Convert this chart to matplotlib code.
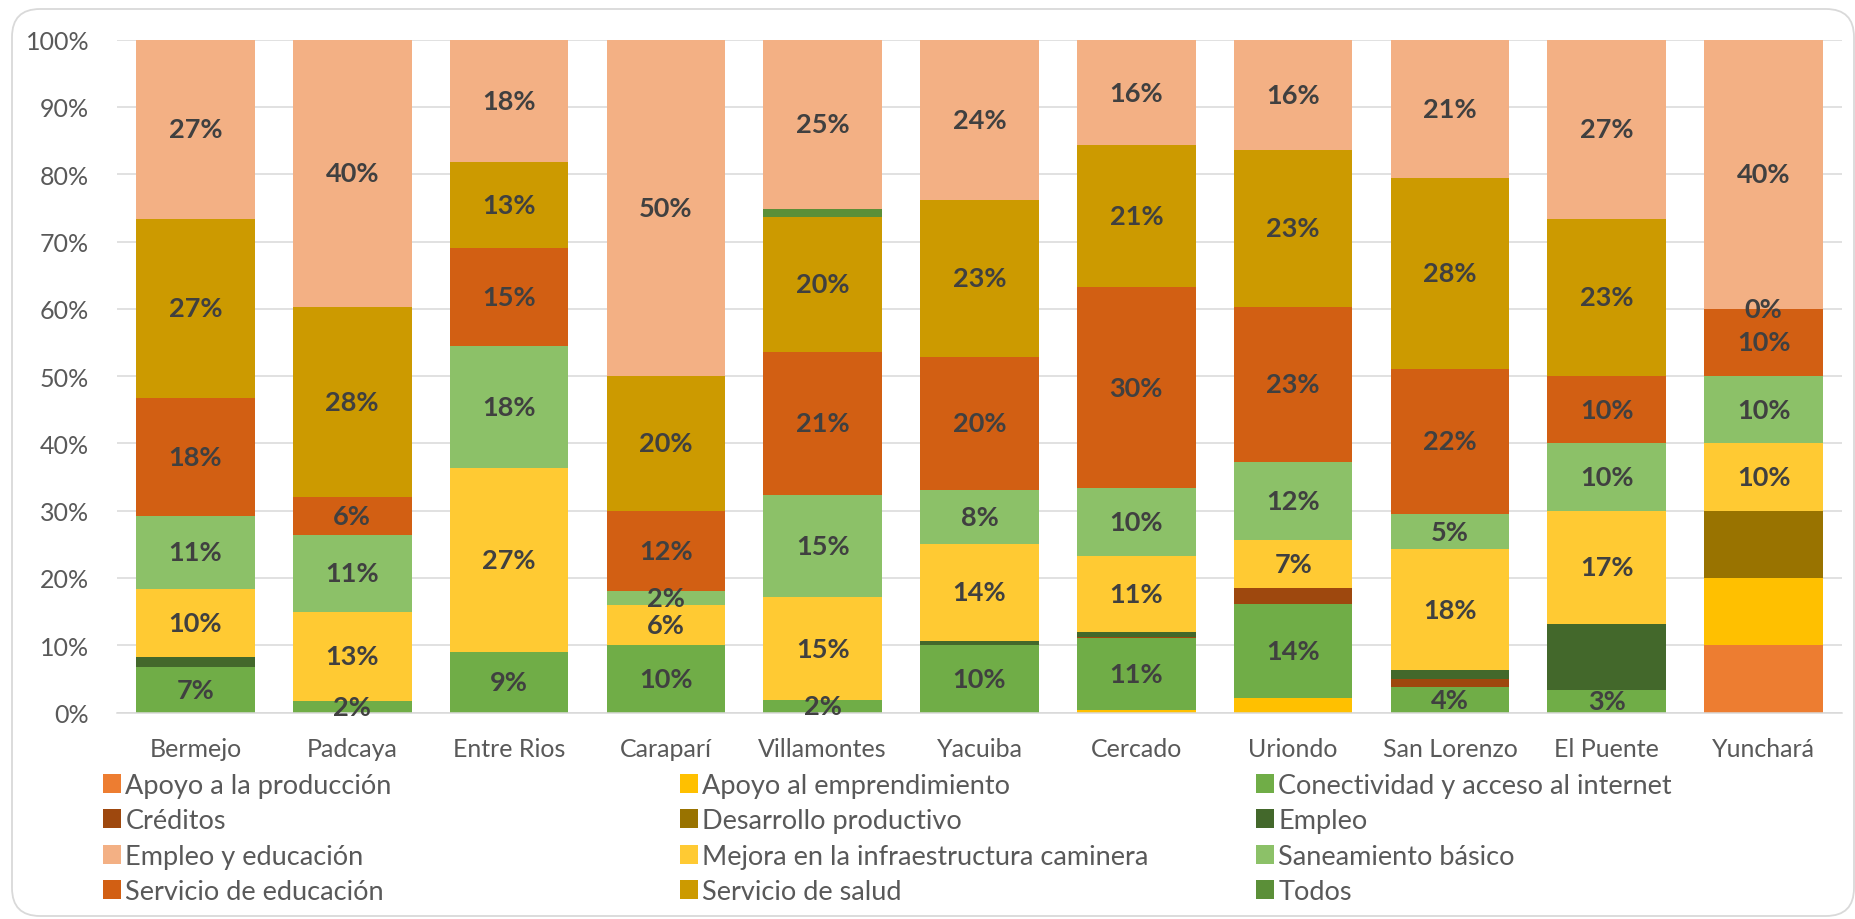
import matplotlib
matplotlib.use("Agg")
import matplotlib.pyplot as plt
import numpy as np
from matplotlib.patches import FancyBboxPatch
from matplotlib.transforms import IdentityTransform

nan = np.nan

# ── data (percent of answers per municipality) ──
municipios = ["Bermejo", "Padcaya", "Entre Rios", "Carapari", "Villamontes",
              "Yacuiba", "Cercado", "Uriondo", "San Lorenzo", "El Puente", "Yunchará"]
municipios[3] = "Caraparí"

apoyo_produccion = [nan, nan, nan, nan, nan, nan, nan, nan, nan, nan, 10.0]
apoyo_emprendimiento = [nan, nan, nan, nan, nan, nan, 0.3, 2.2, nan, nan, 10.0]
conectividad = [6.8, 1.7, 9.0, 10.0, 1.8, 10.0, 10.7, 14.0, 3.8, 3.3, nan]
creditos = [nan, nan, nan, nan, nan, nan, 0.2, 2.3, 1.2, nan, nan]
desarrollo_productivo = [nan, nan, nan, nan, nan, nan, nan, nan, nan, nan, 10.0]
empleo = [1.5, nan, nan, nan, nan, 0.7, 0.8, nan, 1.3, 9.9, nan]
mejora_caminera = [10.1, 13.3, 27.4, 6.0, 15.4, 14.4, 11.2, 7.1, 18.0, 16.8, 10.0]
saneamiento = [10.8, 11.4, 18.1, 2.0, 15.2, 8.0, 10.1, 11.7, 5.2, 10.0, 10.0]
servicio_educacion = [17.6, 5.6, 14.6, 12.0, 21.2, 19.8, 30.0, 23.0, 21.6, 10.0, 10.0]
servicio_salud = [26.6, 28.3, 12.7, 20.0, 20.1, 23.3, 21.0, 23.3, 28.3, 23.4, 0.0]
todos = [nan, nan, nan, nan, 1.1, nan, nan, nan, nan, nan, nan]
empleo_educacion = [26.6, 39.7, 18.2, 50.0, 25.2, 23.8, 15.7, 16.4, 20.6, 26.6, 40.0]

# stacking order (bottom -> top), legend names, colours, and whether Excel showed labels
series = [
    ("Apoyo a la producción", apoyo_produccion, "#ED7D31", False),
    ("Apoyo al emprendimiento", apoyo_emprendimiento, "#FFC000", False),
    ("Conectividad y acceso al internet", conectividad, "#70AD47", True),
    ("Créditos", creditos, "#9E480E", False),
    ("Desarrollo productivo", desarrollo_productivo, "#997300", False),
    ("Empleo", empleo, "#43682B", False),
    ("Mejora en la infraestructura caminera", mejora_caminera, "#FFCA33", True),
    ("Saneamiento básico", saneamiento, "#8CC168", True),
    ("Servicio de educación", servicio_educacion, "#D25F13", True),
    ("Servicio de salud", servicio_salud, "#CC9A00", True),
    ("Todos", todos, "#5B8F38", False),
    ("Empleo y educación", empleo_educacion, "#F3B084", True),
]
legend_order = [
    "Apoyo a la producción", "Apoyo al emprendimiento", "Conectividad y acceso al internet",
    "Créditos", "Desarrollo productivo", "Empleo",
    "Empleo y educación", "Mejora en la infraestructura caminera", "Saneamiento básico",
    "Servicio de educación", "Servicio de salud", "Todos",
]

FONT = ["Lato", "DejaVu Sans"]
plt.rcParams["font.family"] = FONT

W, H = 1856, 920
fig = plt.figure(figsize=(W / 100, H / 100), dpi=100)
ax = fig.add_axes([117 / W, 1 - 713.5 / H, 1725 / W, 672.8 / H])

x = np.arange(len(municipios))
bottom = np.zeros(len(municipios))
handles = {}
for name, vals, color, labelled in series:
    v = np.array(vals, dtype=float)
    h = np.nan_to_num(v)
    bars = ax.bar(x, h, bottom=bottom, width=0.757, color=color, label=name,
                  zorder=2, linewidth=0)
    handles[name] = bars
    if labelled:
        for xi, (val, b) in enumerate(zip(v, bottom)):
            if np.isnan(val):
                continue
            ax.text(xi, b + val / 2, f"{val:.0f}%", ha="center", va="center",
                    fontsize=19.5, fontweight="bold", color="#404040", zorder=3)
    bottom = bottom + h

ax.set_xlim(-0.5, len(municipios) - 0.5)
ax.set_ylim(0, 100)
ax.set_yticks(np.arange(0, 101, 10))
ax.set_yticklabels([f"{t}%" for t in range(0, 101, 10)])
ax.set_xticks(x)
ax.set_xticklabels(municipios)
ax.tick_params(axis="both", length=0, labelsize=18, labelcolor="#595959")
ax.tick_params(axis="y", pad=20)
ax.tick_params(axis="x", pad=18)
ax.yaxis.grid(True, color="#D9D9D9", linewidth=1.1, zorder=0)
ax.set_axisbelow(True)
for side in ["top", "right", "left"]:
    ax.spines[side].set_visible(False)
ax.spines["bottom"].set_color("#D9D9D9")
ax.spines["bottom"].set_linewidth(1.1)

# legend: 3 equal-width columns, row-major order like Excel
col_x = [103, 680, 1256]
for c in range(3):
    names = legend_order[c::3]
    leg = fig.legend([handles[n] for n in names], names, loc="upper left",
                     bbox_to_anchor=(col_x[c] / W, 1 - 774 / H), frameon=False,
                     fontsize=19.5, handlelength=0.65, handleheight=0.7,
                     handletextpad=0.18, labelspacing=0.38, borderpad=0, borderaxespad=0)
    for t in leg.get_texts():
        t.set_color("#595959")

# rounded chart-area border
border = FancyBboxPatch((12, 3), 1842, 907, boxstyle="round,pad=0,rounding_size=28",
                        transform=IdentityTransform(), facecolor="none",
                        edgecolor="#D9D9D9", linewidth=1.3)
fig.patches.append(border)

fig.savefig("out.png", dpi=100, facecolor="white")
